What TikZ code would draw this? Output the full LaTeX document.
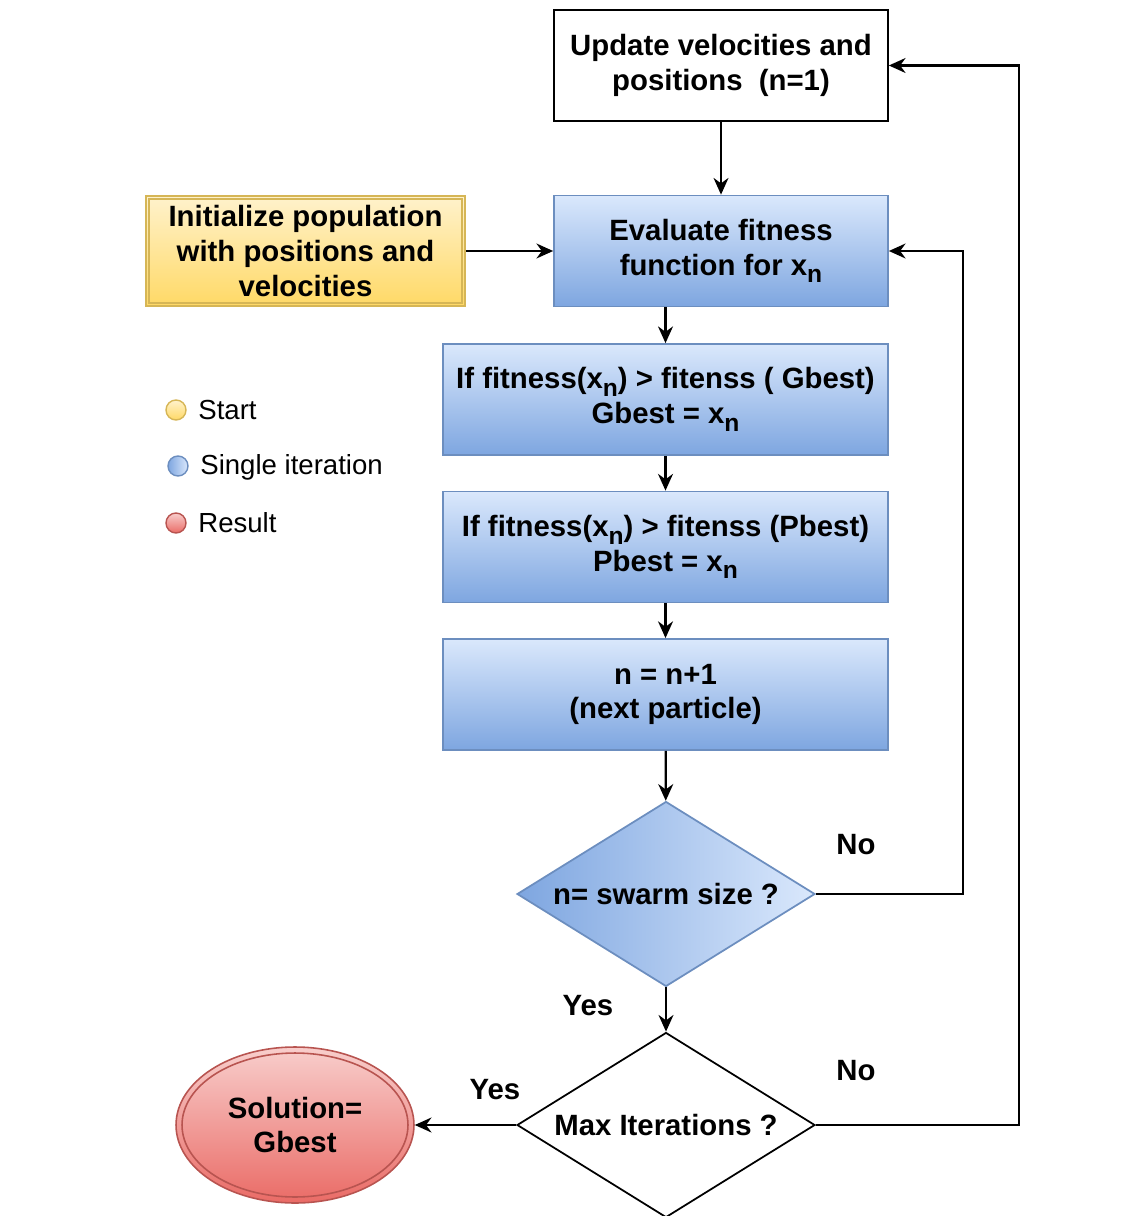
\documentclass[tikz,border=0pt]{standalone}
\usepackage{fontspec}
\setmainfont{Liberation Sans}
\usepackage{xcolor}
\usepackage{tikz}
\usetikzlibrary{shapes,arrows,positioning,calc,arrows.meta}

\definecolor{blueline}{HTML}{6C8EBF}
\definecolor{bluetop}{HTML}{DAE8FC}
\definecolor{bluebot}{HTML}{7EA6E0}
\definecolor{yellowline}{HTML}{D6B656}
\definecolor{yellowtop}{HTML}{FFF2CC}
\definecolor{yellowbot}{HTML}{FFD966}
\definecolor{redline}{HTML}{B85450}
\definecolor{redtop}{HTML}{F8CECC}
\definecolor{redbot}{HTML}{EA6B66}

\newcommand{\xn}{x\raisebox{-0.5ex}{\fontsize{14pt}{14pt}\selectfont n}}

\begin{document}
\begin{tikzpicture}[x=0.02cm, y=-0.02cm,
    pso block/.style={draw, rectangle, minimum width=6.68cm, minimum height=2.22cm, align=center, line width=1pt, font=\bfseries\fontsize{16.7}{19.8}\selectfont},
    iter block/.style={pso block, draw=blueline, top color=bluetop, bottom color=bluebot},
    wide block/.style={iter block, minimum width=8.9cm},
    decision/.style={diamond, draw, minimum width=5.96cm, minimum height=3.7cm, aspect=1.61, inner sep=0pt, line width=1pt, align=center, font=\bfseries\fontsize{16.7}{19.8}\selectfont},
    flow/.style={-{Stealth[length=9.5pt,width=8.5pt]}, line width=1.3pt},
    legend dot/.style={circle, draw, minimum size=0.4cm, inner sep=0pt, line width=0.8pt},
    legend text/.style={anchor=west, inner sep=0pt, font=\fontsize{15.7}{18}\selectfont},
    answer/.style={font=\bfseries\fontsize{16.7}{19.8}\selectfont},
    node distance=2.95cm]
    \useasboundingbox (0,0) rectangle (1145,1216);

    \node[pso block] (update) at (721,65.5) {Update velocities and\\positions~~(n=1)};
    \node[iter block] (eval) at (721,251) {Evaluate fitness\\function for \xn};
    \node[pso block, minimum width=6.38cm, minimum height=2.2cm, draw=yellowline, top color=yellowtop, bottom color=yellowbot] (init) at (305.5,251) {Initialize population\\with positions and\\velocities};
    \draw[yellowline, line width=0.9pt] ($(init.north west)+(4,4)$) rectangle ($(init.south east)+(-4,-4)$);

    \node[wide block] (gbest) at (665.5,399.5) {If fitness(\xn) > fitenss ( Gbest)\\Gbest = \xn};
    \node[wide block, below of=gbest] (pbest) {If fitness(\xn) > fitenss (Pbest)\\Pbest = \xn};
    \node[wide block, below of=pbest] (next) {n = n+1\\(next particle)};

    \node[decision, draw=blueline, left color=bluebot, right color=bluetop] (swarm) at (666,894) {n= swarm size ?};
    \node[decision] (maxit) at (666,1125) {Max Iterations ?};

    \node[ellipse, draw=redline, line width=0.9pt, minimum width=4.76cm, minimum height=3.12cm, inner sep=0pt, top color=redtop, bottom color=redbot, align=center, font=\bfseries\fontsize{16.7}{19.8}\selectfont] (sol) at (295,1125) {Solution=\\Gbest};
    \draw[redline, line width=0.9pt] (sol.center) ellipse [x radius=2.26cm, y radius=1.44cm];

    % legend
    \node[legend dot, draw=yellowline, top color=yellowtop, bottom color=yellowbot] (ldot1) at (176,410) {};
    \node[legend dot, draw=blueline, left color=bluebot, right color=bluetop] (ldot2) at (178,466) {};
    \node[legend dot, draw=redline, top color=redtop, bottom color=redbot] (ldot3) at (176,523) {};
    \node[legend text] (ltext1) at (198,410) {Start};
    \node[legend text] (ltext2) at (200,467) {Single iteration};
    \node[legend text] (ltext3) at (198,523) {Result};

    \node[answer] (no1) at (856,845) {No};
    \node[answer] (yes1) at (588,1006) {Yes};
    \node[answer] (no2) at (856,1071) {No};
    \node[answer] (yes2) at (495,1090) {Yes};

    \draw[flow] (update) -- (eval);
    \draw[flow] (init) -- (eval);
    \draw[flow] (eval.south -| gbest.north) -- (gbest.north);
    \draw[flow] (gbest) -- (pbest);
    \draw[flow] (pbest) -- (next);
    \draw[flow] (next) -- (swarm);
    \draw[flow] (swarm) -- (maxit);
    \draw[flow] (swarm.east) -- ++(147,0) |- (eval.east); % not yet
    \draw[flow] (maxit.east) -- ++(203,0) |- (update.east); % next iteration
    \draw[flow] (maxit.west) -- (sol.east);

\end{tikzpicture}
\end{document}
